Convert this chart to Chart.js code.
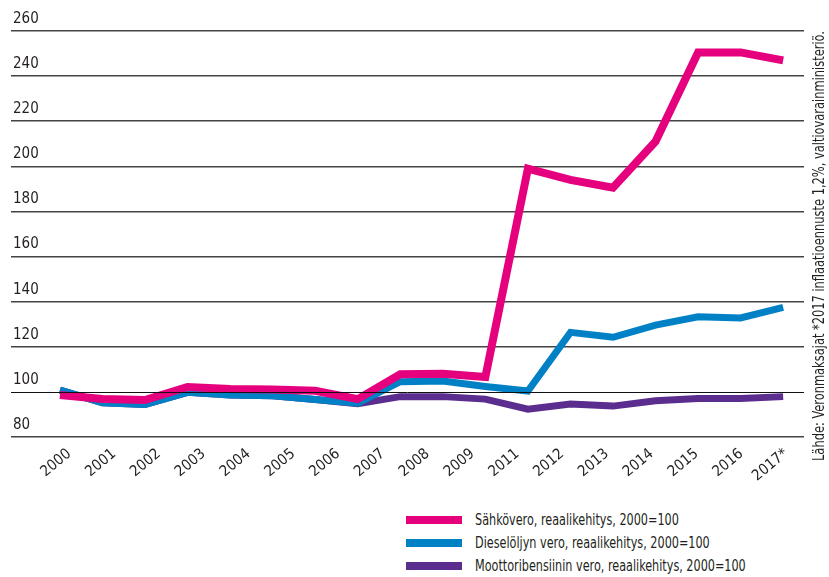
<!DOCTYPE html>
<html lang="fi">
<head>
<meta charset="utf-8">
<title>Energiaverojen reaalikehitys</title>
<script src="https://cdn.jsdelivr.net/npm/chart.js@4"></script>
<style>
    body { margin: 0; background: #fff; }
    #wrap { position: relative; width: 829px; height: 577px; }
    #legend {
        position: absolute; left: 406px; top: 508px;
        font-family: 'DejaVu Sans Condensed', sans-serif;
        font-size: 16px; color: #231f20;
    }
    #legend .row { display: flex; align-items: center; height: 23px; white-space: nowrap; }
    #legend .swatch { width: 56px; height: 8px; margin-right: 13px; flex: none; }
    #legend .text { display: inline-block; transform: scaleX(0.78); transform-origin: left center; }
</style>
</head>
<body>
<div id="wrap">
    <canvas id="taxChart" width="829" height="505"></canvas>
    <div id="legend"></div>
</div>
<script>
// ==================== VEROT ====================
const FONT = "'DejaVu Sans Condensed', sans-serif";

// vuosittaiset arvot 2000-2017
const years = [2000, 2001, 2002, 2003, 2004, 2005, 2006, 2007, 2008, 2009,
               2010, 2011, 2012, 2013, 2014, 2015, 2016, 2017];
const sahkovero = [98.6, 96.8, 96.4, 102.2, 101.3, 101.1, 100.5, 96.8, 107.8, 108.0,
                   106.6, 199.0, 194.0, 190.5, 211.0, 250.5, 250.5, 247.0];
const dieselvero = [100.8, 95.2, 94.4, 99.8, 98.6, 98.3, 96.6, 95.0, 104.5, 104.8,
                    102.4, 100.4, 126.4, 124.2, 129.6, 133.3, 132.8, 137.5];
const bensiinivero = [100.8, 95.2, 94.4, 99.8, 98.6, 98.3, 96.6, 94.8, 97.9, 97.9,
                      96.8, 92.3, 94.6, 93.7, 96.1, 97.1, 97.1, 97.9];

// akselin vuosiotsikot (2010 puuttuu)
const xLabels = ['2000', '2001', '2002', '2003', '2004', '2005', '2006', '2007', '2008',
                 '2009', '2011', '2012', '2013', '2014', '2015', '2016', '2017*'];
const yTicks = [80, 100, 120, 140, 160, 180, 200, 220, 240, 260];

const seriesNames = [
    'Sähkövero, reaalikehitys, 2000=100',
    'Dieselöljyn vero, reaalikehitys, 2000=100',
    'Moottoribensiinin vero, reaalikehitys, 2000=100'
];
const seriesColors = ['#e5007d', '#0081c6', '#5b2d8e'];
const note = 'Lähde: Veronmaksajat *2017 inflaatioennuste 1,2%, valtiovarainministeriö.';

function toPoints(values) {
    return values.map((v, i) => ({ x: years[i], y: v }));
}

// ohut viiva tasolle 100 viivojen päälle + lähdeteksti oikeaan reunaan
const overlayPlugin = {
    id: 'overlay',
    afterDatasetsDraw(chart) {
        const { ctx, chartArea, scales } = chart;
        const y = Math.round(scales.y.getPixelForValue(100)) + 0.5;
        ctx.save();
        ctx.strokeStyle = '#111';
        ctx.lineWidth = 1;
        ctx.beginPath();
        ctx.moveTo(chartArea.left, y);
        ctx.lineTo(chartArea.right, y);
        ctx.stroke();
        ctx.restore();
    },
    afterDraw(chart) {
        const ctx = chart.ctx;
        ctx.save();
        ctx.font = '15px ' + FONT;
        const squeeze = 430 / ctx.measureText(note).width;
        ctx.translate(820, 461);
        ctx.rotate(-Math.PI / 2);
        ctx.scale(squeeze, 1);
        ctx.fillStyle = '#231f20';
        ctx.textAlign = 'left';
        ctx.textBaseline = 'middle';
        ctx.fillText(note, 0, 0);
        ctx.restore();
    }
};

const datasets = [sahkovero, dieselvero, bensiinivero].map((values, i) => ({
    label: seriesNames[i],
    data: toPoints(values),
    borderColor: seriesColors[i],
    backgroundColor: seriesColors[i],
    borderWidth: i === 0 ? 8 : 7,
    borderJoinStyle: 'miter',
    pointRadius: 0,
    tension: 0,
    xAxisID: 'x',
    yAxisID: 'y'
}));

const taxChart = new Chart(document.getElementById('taxChart'), {
    type: 'line',
    data: { datasets: datasets },
    options: {
        responsive: false,
        animation: false,
        layout: { padding: { left: 11, right: 25, top: 31, bottom: 8 } },
        plugins: {
            legend: { display: false },
            tooltip: { enabled: false }
        },
        scales: {
            x: {
                type: 'linear',
                display: false,
                min: 1998.85,
                max: 2017.49
            },
            xl: {
                type: 'linear',
                position: 'bottom',
                min: -1.3,
                max: 16.4,
                grid: { display: false },
                border: { display: false },
                afterBuildTicks: scale => {
                    scale.ticks = xLabels.map((_, i) => ({ value: i }));
                },
                afterFit: scale => { scale.height = 60; },
                ticks: {
                    autoSkip: false,
                    minRotation: 40,
                    maxRotation: 40,
                    padding: 0,
                    color: '#231f20',
                    font: { family: FONT, size: 15 },
                    callback: value => xLabels[value]
                }
            },
            y: {
                type: 'linear',
                min: 80,
                max: 260,
                afterBuildTicks: scale => {
                    scale.ticks = yTicks.map(v => ({ value: v }));
                },
                afterFit: scale => { scale.width = 0; },
                border: { display: false },
                grid: {
                    drawTicks: false,
                    lineWidth: 1.6,
                    color: ctx => ctx.tick && ctx.tick.value === 100 ? 'rgba(0,0,0,0)' : '#444'
                },
                ticks: {
                    mirror: true,
                    padding: 2,
                    labelOffset: -12,
                    color: '#231f20',
                    font: { family: FONT, size: 15 }
                }
            }
        }
    },
    plugins: [overlayPlugin]
});

// selite kaavion alle
const legendEl = document.getElementById('legend');
taxChart.data.datasets.forEach(ds => {
    const row = document.createElement('div');
    row.className = 'row';
    row.innerHTML = `<span class="swatch" style="background:${ds.borderColor}"></span><span class="text">${ds.label}</span>`;
    legendEl.appendChild(row);
});
</script>
</body>
</html>
